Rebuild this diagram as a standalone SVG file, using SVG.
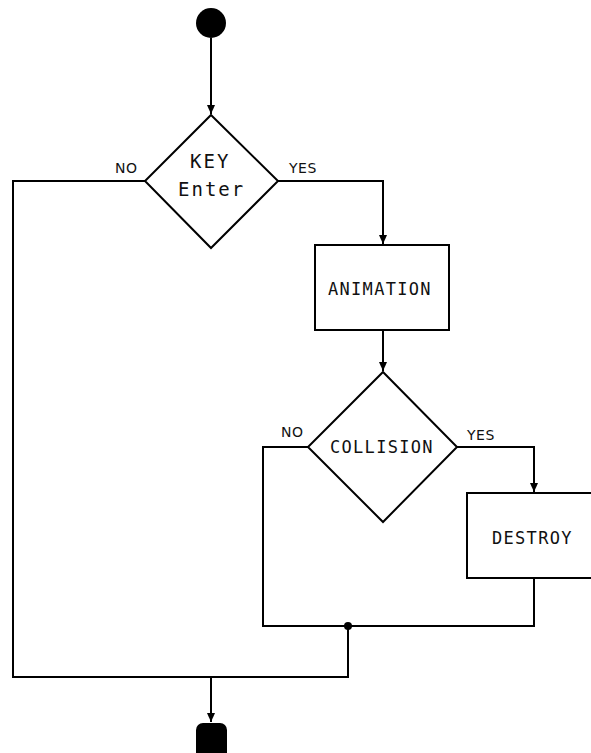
<svg xmlns="http://www.w3.org/2000/svg" width="591" height="753" viewBox="0 0 591 753">
<style>
.shape{fill:#fff;stroke:#000;stroke-width:2}
.line{fill:none;stroke:#000;stroke-width:2}
.t{font-family:"DejaVu Sans Mono",monospace;fill:#111}
.big{font-size:19px;letter-spacing:2px}
.mid{font-size:17px;letter-spacing:1.3px}
.lbl{font-family:"DejaVu Sans","Liberation Sans",sans-serif;font-size:14px;fill:#111;letter-spacing:0.5px}
</style>
<defs>
<marker id="arr" markerWidth="10" markerHeight="10" refX="9" refY="5" orient="auto" markerUnits="userSpaceOnUse">
<path d="M0,1 L9,5 L0,9 Z" fill="#000"/>
</marker>
</defs>
<rect width="591" height="753" fill="#fff"/>
<g id="connectors">
<path class="line" d="M211,38 V114" marker-end="url(#arr)"/>
<path class="line" d="M278,181 H383 V244" marker-end="url(#arr)"/>
<path class="line" d="M383,330 V371" marker-end="url(#arr)"/>
<path class="line" d="M457,447 H534 V492" marker-end="url(#arr)"/>
<path class="line" d="M308,447 H263 V626 H534 V578"/>
<path class="line" d="M145,181 H13 V677 H348 V626"/>
<path class="line" d="M211,677 V722" marker-end="url(#arr)"/>
<circle cx="348" cy="626" r="4" fill="#000"/>
<text class="lbl" x="115" y="173">NO</text>
<text class="lbl" x="289" y="173">YES</text>
<text class="lbl" x="281" y="437">NO</text>
<text class="lbl" x="467" y="440">YES</text>
</g>
<g id="start">
<circle cx="211" cy="23" r="15" fill="#000"/>
</g>
<g id="key">
<polygon class="shape" points="211,115 278,181 211,248 145,181"/>
<text class="t big" x="190" y="168">KEY</text>
<text class="t big" x="178" y="196">Enter</text>
</g>
<g id="animation">
<rect class="shape" x="315" y="245" width="134" height="85"/>
<text class="t mid" x="328" y="295">ANIMATION</text>
</g>
<g id="collision">
<polygon class="shape" points="383,372 457,447 383,522 308,447"/>
<text class="t mid" x="330" y="453">COLLISION</text>
</g>
<g id="destroy">
<rect class="shape" x="467" y="493" width="134" height="85"/>
<text class="t mid" x="492" y="544">DESTROY</text>
</g>
<g id="end">
<rect x="196" y="723" width="31" height="40" rx="7" fill="#000"/>
</g>
</svg>
